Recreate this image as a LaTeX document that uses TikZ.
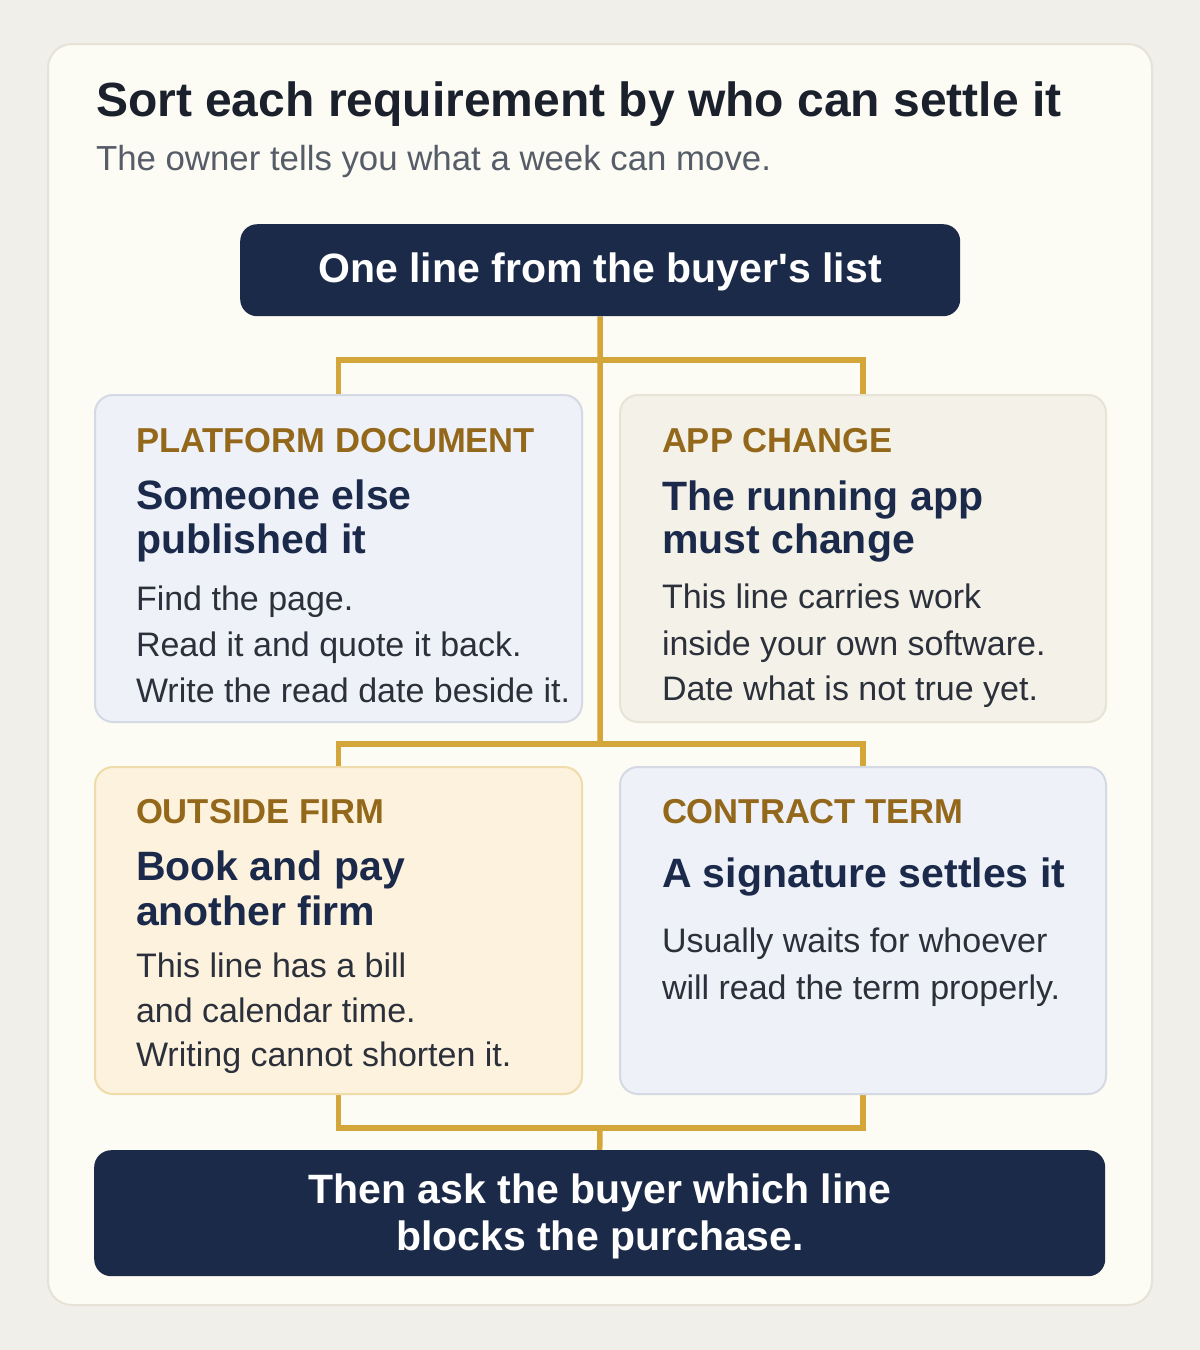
\documentclass[tikz,border=0pt]{standalone}
\usepackage{fontspec}
\setmainfont{Liberation Sans}
\definecolor{pagebg}{HTML}{F1EFEA}
\definecolor{cardbg}{HTML}{FCFBF4}
\definecolor{cardln}{HTML}{E6E2D6}
\definecolor{navy}{HTML}{1B2A48}
\definecolor{gold}{HTML}{D4A63A}
\definecolor{lblc}{HTML}{94681A}
\definecolor{headc}{HTML}{1B2A4A}
\definecolor{bodyc}{HTML}{2B303B}
\definecolor{subc}{HTML}{565D69}
\definecolor{titlec}{HTML}{1A202C}
\definecolor{bluef}{HTML}{EEF1F8}
\definecolor{bluel}{HTML}{D4D9E3}
\definecolor{greyf}{HTML}{F3F1E8}
\definecolor{greyl}{HTML}{E7E3D6}
\definecolor{creamf}{HTML}{FCF2DE}
\definecolor{creaml}{HTML}{EFDCAA}
\pgfdeclarelayer{back}
\pgfdeclarelayer{wires}
\pgfsetlayers{back,wires,main}
\tikzset{
  boxbase/.style={rectangle, rounded corners=18pt, line width=2pt, minimum width=487pt, minimum height=327pt, anchor=north west, inner sep=0pt},
  bluebox/.style={boxbase, fill=bluef, draw=bluel},
  greybox/.style={boxbase, fill=greyf, draw=greyl},
  creambox/.style={boxbase, fill=creamf, draw=creaml},
  navybox/.style={rectangle, rounded corners=17pt, fill=navy, inner sep=0pt, anchor=north west},
  conn/.style={draw=gold, line width=5.5pt},
  txt/.style={inner sep=0pt, outer sep=0pt, anchor=base west},
  lbl/.style={txt, text=lblc, font=\fontsize{34.6}{40}\selectfont\bfseries},
  head/.style={txt, text=headc, font=\fontsize{41}{46}\selectfont\bfseries},
  body/.style={txt, text=bodyc, font=\fontsize{34}{40}\selectfont},
  navytxt/.style={inner sep=0pt, outer sep=0pt, anchor=base, text=white, font=\fontsize{41}{46}\selectfont\bfseries},
}
\begin{document}
\begin{tikzpicture}[x=1pt,y=-1pt]
\useasboundingbox (0,0) rectangle (1200,1350);
\begin{pgfonlayer}{back}
\fill[pagebg] (0,0) rectangle (1200,1350);
\draw[fill=cardbg, draw=cardln, line width=2pt, rounded corners=24pt] (48,44) rectangle (1152,1305);
\end{pgfonlayer}

\node[txt, text=titlec, font=\fontsize{48}{54}\selectfont\bfseries] (title) at (96,116) {Sort each requirement by who can settle it};
\node[txt, text=subc, font=\fontsize{34.8}{40}\selectfont] (sub) at (96,170) {The owner tells you what a week can move.};

% boxes
\node[navybox, minimum width=720pt, minimum height=92pt] (top) at (240,224) {};
\node[bluebox] (pd) at (94,394) {};
\node[greybox, minimum width=486pt] (ac) at (619,394) {};
\node[creambox] (of) at (94,766) {};
\node[bluebox, minimum width=486pt] (ct) at (619,766) {};
\node[navybox, minimum width=1011pt, minimum height=126pt] (bot) at (94,1150) {};

% connectors
\coordinate (j1) at (600,360);
\coordinate (j2) at (600,744);
\coordinate (j3) at (600,1128);
\begin{pgfonlayer}{wires}
\draw[conn] (top.south) -- (j2);
\draw[conn] (pd.north) |- (j1) -| (ac.north);
\draw[conn] (of.north) |- (j2) -| (ct.north);
\draw[conn] (of.south) |- (j3) -| (ct.south);
\draw[conn] (j3) -- (bot.north);
\end{pgfonlayer}

\node[navytxt] (toptxt) at (600,282) {One line from the buyer\textquotesingle s list};
\node[navytxt] (bott1) at (600,1203) {Then ask the buyer which line};
\node[navytxt] (bott2) at (600,1250) {blocks the purchase.};

% platform document
\node[lbl] (pdl) at (136,452) {PLATFORM DOCUMENT};
\node[head] (pdh1) at (136,509) {Someone else};
\node[head] (pdh2) at (136,553) {published it};
\node[body] (pdb1) at (136,610) {Find the page.};
\node[body] (pdb2) at (136,656) {Read it and quote it back.};
\node[body] (pdb3) at (136,702) {Write the read date beside it.};

% app change
\node[lbl] (acl) at (662,452) {APP CHANGE};
\node[head] (ach1) at (662,510) {The running app};
\node[head] (ach2) at (662,553) {must change};
\node[body] (acb1) at (662,608) {This line carries work};
\node[body] (acb2) at (662,655) {inside your own software.};
\node[body] (acb3) at (662,700) {Date what is not true yet.};

% outside firm
\node[lbl] (ofl) at (136,823) {OUTSIDE FIRM};
\node[head] (ofh1) at (136,880) {Book and pay};
\node[head] (ofh2) at (136,925) {another firm};
\node[body] (ofb1) at (136,977) {This line has a bill};
\node[body] (ofb2) at (136,1022) {and calendar time.};
\node[body] (ofb3) at (136,1066) {Writing cannot shorten it.};

% contract term
\node[lbl] (ctl) at (662,823) {CONTRACT TERM};
\node[head] (cth1) at (662,887) {A signature settles it};
\node[body] (ctb1) at (662,952) {Usually waits for whoever};
\node[body] (ctb2) at (662,999) {will read the term properly.};
\end{tikzpicture}
\end{document}
